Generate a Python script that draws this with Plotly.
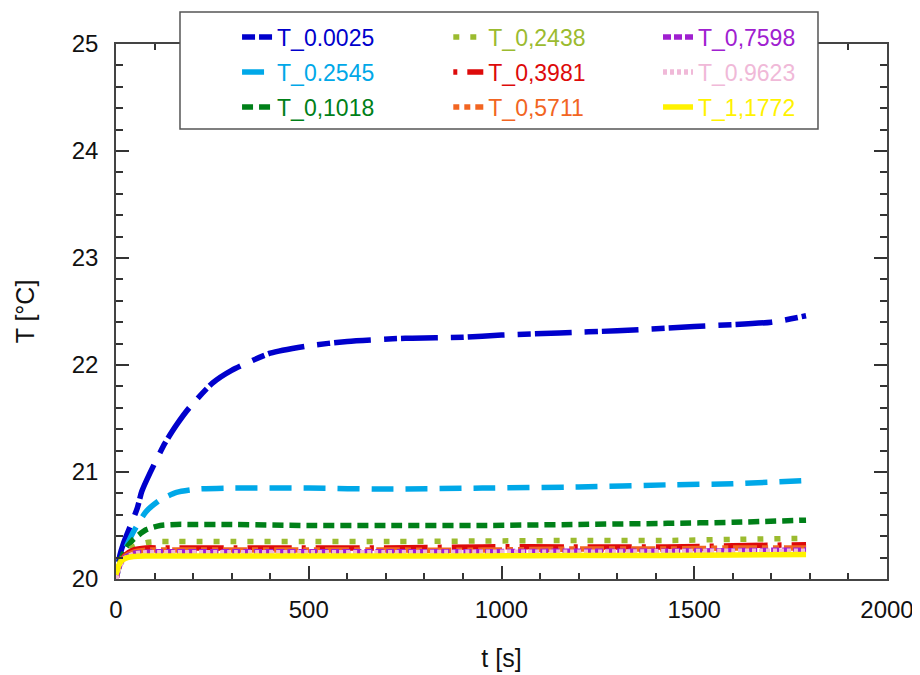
import plotly.graph_objects as go

# time points [s]
t_blue = [0, 10, 20, 55, 67, 88, 127, 157, 190, 250, 300, 400, 500, 600, 750, 900, 1000, 1150, 1300, 1500, 1700, 1790]
T_0_0025 = [20.0, 20.22, 20.34, 20.66, 20.82, 20.99, 21.27, 21.44, 21.6, 21.83, 21.95, 22.11, 22.18, 22.22, 22.25, 22.26, 22.28, 22.30, 22.32, 22.36, 22.40, 22.46]

t_std = [0, 10, 23, 45, 78, 115, 157, 210, 290, 500, 700, 950, 1200, 1430, 1600, 1790]
T_0_2545 = [20.0, 20.14, 20.27, 20.44, 20.63, 20.74, 20.81, 20.84, 20.85, 20.85, 20.84, 20.85, 20.86, 20.88, 20.89, 20.92]
T_0_1018 = [20.0, 20.16, 20.27, 20.37, 20.46, 20.50, 20.51, 20.51, 20.51, 20.50, 20.50, 20.50, 20.51, 20.52, 20.53, 20.55]
T_0_2438 = [20.0, 20.15, 20.24, 20.30, 20.34, 20.35, 20.35, 20.35, 20.35, 20.35, 20.35, 20.355, 20.36, 20.36, 20.37, 20.38]
T_0_3981 = [20.0, 20.14, 20.22, 20.27, 20.29, 20.29, 20.29, 20.29, 20.29, 20.29, 20.29, 20.30, 20.30, 20.30, 20.31, 20.32]
T_0_5711 = [20.0, 20.14, 20.21, 20.25, 20.27, 20.27, 20.27, 20.27, 20.27, 20.27, 20.27, 20.27, 20.28, 20.28, 20.29, 20.29]
T_0_7598 = [20.0, 20.13, 20.2, 20.24, 20.25, 20.255, 20.255, 20.255, 20.255, 20.255, 20.255, 20.255, 20.26, 20.26, 20.265, 20.27]
T_0_9623 = [20.0, 20.13, 20.19, 20.23, 20.245, 20.245, 20.245, 20.245, 20.245, 20.245, 20.245, 20.25, 20.25, 20.255, 20.26, 20.26]
T_1_1772 = [20.04, 20.15, 20.19, 20.21, 20.215, 20.215, 20.215, 20.215, 20.215, 20.215, 20.215, 20.215, 20.22, 20.22, 20.225, 20.23]

x_ticks = [0, 500, 1000, 1500, 2000]
y_ticks = [20, 21, 22, 23, 24, 25]

# (name, x, y, colour, dash, legend column)
series = [
    ("T_0.0025", t_blue, T_0_0025, "#0000CC", "13px,4px,37px,13px", "legend"),
    ("T_0.2545", t_std, T_0_2545, "#00A8E8", "22px,12px", "legend"),
    ("T_0,1018", t_std, T_0_1018, "#008018", "11px,6px", "legend"),
    ("T_0,2438", t_std, T_0_2438, "#9BBB2F", "6px,11px", "legend2"),
    ("T_0,3981", t_std, T_0_3981, "#DD0A0A", "4px,10px,44px,10px", "legend2"),
    ("T_0,5711", t_std, T_0_5711, "#F26522", "6px,5px,6px,5px,24px,5px", "legend2"),
    ("T_0,7598", t_std, T_0_7598, "#A020D0", "8px,3px", "legend3"),
    ("T_0.9623", t_std, T_0_9623, "#F0B9D8", "4px,3px", "legend3"),
    ("T_1,1772", t_std, T_1_1772, "#FFF200", "solid", "legend3"),
]

FONT = "Liberation Sans, Arial, sans-serif"

fig = go.Figure()
for i, (name, xs, ys, col, dash, leg) in enumerate(series):
    fig.add_trace(go.Scatter(
        x=xs, y=ys, mode="lines",
        name=f'<span style="color:{col}">{name}</span>',
        legend=leg, legendgroup=f"g{i}",
        line=dict(color=col, width=5.5, dash=dash, shape="spline", smoothing=0.6),
    ))

axis_common = dict(
    showline=True, linecolor="#444", linewidth=1.5, mirror="ticks",
    ticks="inside", ticklen=13, tickwidth=1.5, tickcolor="#333",
    showgrid=False, zeroline=False, automargin=False,
    tickfont=dict(family=FONT, size=24, color="#111"),
)

fig.update_xaxes(
    range=[0, 2000], tickvals=x_ticks, ticktext=[str(v) for v in x_ticks],
    minor=dict(ticks="inside", ticklen=6, tickwidth=1.5, tickcolor="#333", dtick=100, showgrid=False),
    title=dict(text="t [s]", font=dict(family=FONT, size=25, color="#111"), standoff=28),
    ticklabelstandoff=8,
    **axis_common,
)
fig.update_yaxes(
    range=[20, 25], tickvals=y_ticks, ticktext=[str(v) for v in y_ticks],
    minor=dict(ticks="inside", ticklen=7, tickwidth=1.5, tickcolor="#333", dtick=0.2, showgrid=False),
    title=dict(text="T [°C]", font=dict(family=FONT, size=25, color="#111"), standoff=30),
    ticklabelstandoff=11,
    **axis_common,
)

leg_common = dict(
    orientation="v", xanchor="left", y=1.053, yanchor="top",
    bgcolor="rgba(0,0,0,0)", borderwidth=0,
    font=dict(family=FONT, size=23), tracegroupgap=2,
)

fig.update_layout(
    width=912, height=667,
    margin=dict(l=108, r=33, t=36, b=96, autoexpand=False),
    paper_bgcolor="white", plot_bgcolor="white",
    showlegend=True,
    legend=dict(x=0.157, **leg_common),
    legend2=dict(x=0.431, **leg_common),
    legend3=dict(x=0.703, **leg_common),
    shapes=[dict(
        type="rect", xref="paper", yref="paper",
        x0=0.083, x1=0.9105, y0=0.841, y1=1.0598,
        fillcolor="white", line=dict(color="#555", width=1.5), layer="above",
    )],
)

fig.write_html("out.html")
